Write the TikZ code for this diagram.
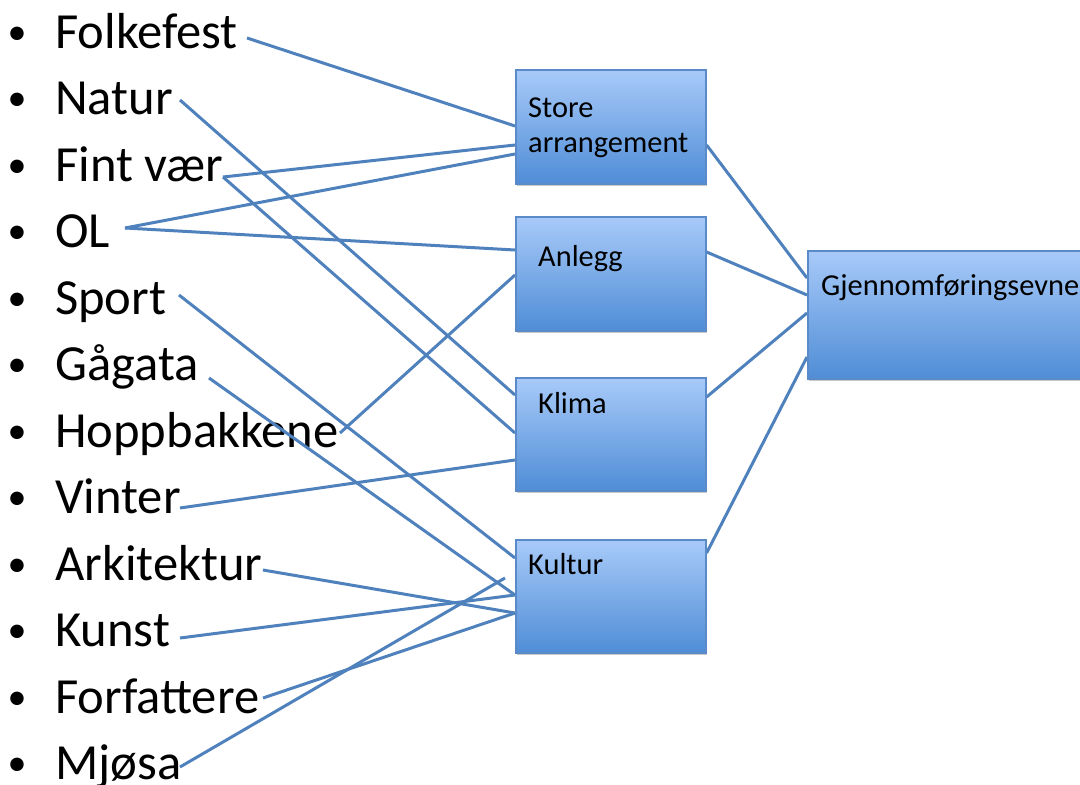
\documentclass[tikz,border=0pt]{standalone}
\usepackage{fontspec}
\setmainfont{Carlito}
\usetikzlibrary{shadows}
\definecolor{linkblue}{HTML}{4F81BD}
\definecolor{boxtop}{HTML}{A8CAF9}
\definecolor{boxbot}{HTML}{4F8DD6}
\definecolor{boxedge}{HTML}{5A8BC8}
\pgfdeclarelayer{front}
\pgfsetlayers{main,front}

\begin{document}
\begin{tikzpicture}[x=1pt,y=-1pt,
  item/.style={anchor=base west, inner sep=0pt, font=\fontsize{50.6}{56}\selectfont},
  dotmark/.style={anchor=base, inner sep=0pt, font=\fontsize{38}{42}\selectfont},
  box/.style={draw=boxedge, line width=1.6pt, top color=boxtop, bottom color=boxbot,
    inner sep=0pt, anchor=north west, minimum width=190pt, minimum height=114pt,
    drop shadow={shadow xshift=1.5pt, shadow yshift=-2.5pt, opacity=.3, fill=black!70}},
  boxtext/.style={anchor=base west, inner sep=0pt, font=\fontsize{30.4}{36}\selectfont},
  link/.style={draw=linkblue, line width=3pt}]

\useasboundingbox (0,0) rectangle (1080,785);
\clip (0,0) rectangle (1080,785);

% bulleted list of factors
\foreach \t/\n [count=\i from 0] in {Folkefest/folkefest, Natur/natur, Fint vær/fintvaer, OL/ol,
    Sport/sport, Gågata/gagata, Hoppbakkene/hopp, Vinter/vinter, Arkitektur/arkitektur,
    Kunst/kunst, Forfattere/forfattere, Mjøsa/mjosa} {
  \node[dotmark] (\n-dot) at (17,44+66.5*\i) {•};
  \node[item] (\n) at (55,48+66.5*\i) {\t};
}

% line ends next to the words
\coordinate (folkefest-end) at (247,38);
\coordinate (natur-end) at (180,100);
\coordinate (fintvaer-end) at (223,177);
\coordinate (ol-end) at (125,228);
\coordinate (sport-end) at (179,295);
\coordinate (gagata-end) at (209,378);
\coordinate (hopp-end) at (340,433);
\coordinate (vinter-end) at (180,508);
\coordinate (arkitektur-end) at (263,570);
\coordinate (kunst-end) at (180,638);
\coordinate (forfattere-end) at (263,698);
\coordinate (mjosa-end) at (180,767);
\coordinate (mjosa-tip) at (505,578);

% category boxes and the outcome box, above the links
\begin{pgfonlayer}{front}
\path (515,69) node[box] (store) {};
\path (515,216) node[box] (anlegg) {};
\path (515,377) node[box, minimum height=113pt] (klima) {};
\path (515,539) node[box, minimum height=113pt] (kultur) {};
\path (807,250) node[box, minimum width=290pt, minimum height=128pt] (gjenn) {};

\node[boxtext] (store-a) at (528,117) {Store};
\node[boxtext] (store-b) at (528,152) {arrangement};
\node[boxtext] (anlegg-t) at (538,266) {Anlegg};
\node[boxtext] (klima-t) at (538,413) {Klima};
\node[boxtext] (kultur-t) at (528,574) {Kultur};
\node[boxtext] (gjenn-t) at (821,295) {Gjennomføringsevne};
\end{pgfonlayer}

% links from the list into the categories
\draw[link] (folkefest-end) -- ([yshift=-57pt]store.north west);
\draw[link] (natur-end) -- ([yshift=-18pt]klima.north west);
\draw[link] (fintvaer-end) -- ([yshift=-56pt]klima.north west);
\draw[link] (fintvaer-end) -- ([yshift=-76pt]store.north west);
\draw[link] (ol-end) -- ([yshift=-85pt]store.north west);
\draw[link] (ol-end) -- ([yshift=-34pt]anlegg.north west);
\draw[link] (sport-end) -- ([yshift=-19pt]kultur.north west);
\draw[link] (gagata-end) -- ([yshift=-56pt]kultur.north west);
\draw[link] (hopp-end) -- ([yshift=-59pt]anlegg.north west);
\draw[link] (vinter-end) -- ([yshift=-83pt]klima.north west);
\draw[link] (arkitektur-end) -- ([yshift=-74pt]kultur.north west);
\draw[link] (kunst-end) -- ([yshift=-56pt]kultur.north west);
\draw[link] (forfattere-end) -- ([yshift=-74pt]kultur.north west);
\draw[link] (mjosa-end) -- (mjosa-tip);

% links from the categories into the outcome
\draw[link] ([yshift=-76pt]store.north east) -- ([yshift=-28pt]gjenn.north west);
\draw[link] ([yshift=-36pt]anlegg.north east) -- ([yshift=-45pt]gjenn.north west);
\draw[link] ([yshift=-20pt]klima.north east) -- ([yshift=-63pt]gjenn.north west);
\draw[link] ([yshift=-14pt]kultur.north east) -- ([yshift=-107pt]gjenn.north west);
\end{tikzpicture}
\end{document}
